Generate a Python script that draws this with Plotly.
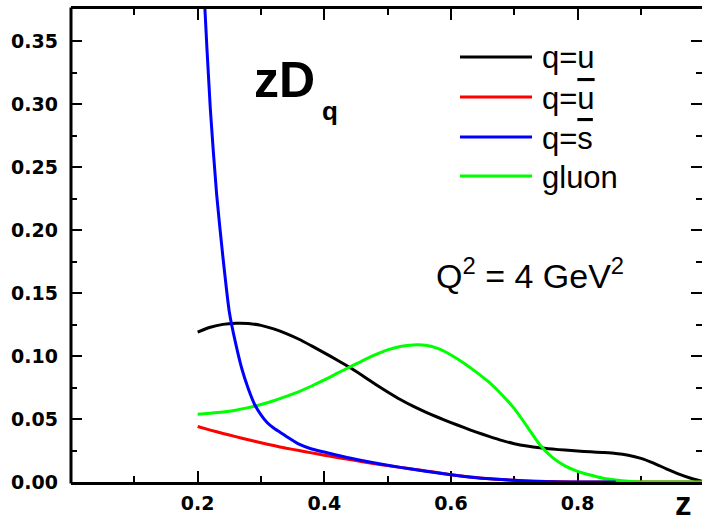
import plotly.graph_objects as go

# Fragmentation functions zD_q(z) at Q^2 = 4 GeV^2
z = [0.20, 0.22, 0.24, 0.26, 0.28, 0.30, 0.32, 0.34, 0.36, 0.38,
     0.40, 0.42, 0.44, 0.46, 0.48, 0.50, 0.52, 0.54, 0.56, 0.58,
     0.60, 0.62, 0.64, 0.66, 0.68, 0.70, 0.72, 0.74, 0.76, 0.78,
     0.80, 0.82, 0.84, 0.86, 0.88, 0.90, 0.92, 0.94, 0.96, 0.98, 1.00]

zD_u = [0.1190, 0.1228, 0.1251, 0.1260, 0.1258, 0.1243, 0.1215, 0.1178, 0.1133, 0.1080,
        0.1025, 0.0968, 0.0910, 0.0845, 0.0778, 0.0715, 0.0655, 0.0602, 0.0555, 0.0512,
        0.0472, 0.0433, 0.0396, 0.0362, 0.0330, 0.0304, 0.0285, 0.0271, 0.0261, 0.0253,
        0.0246, 0.0240, 0.0234, 0.0227, 0.0213, 0.0188, 0.0150, 0.0105, 0.0063, 0.0028, 0.0]

zD_ubar = [0.0440, 0.0412, 0.0385, 0.0360, 0.0335, 0.0311, 0.0289, 0.0268, 0.0250, 0.0231,
           0.0213, 0.0195, 0.0178, 0.0161, 0.0145, 0.0130, 0.0116, 0.0102, 0.0088, 0.0073,
           0.0058, 0.0046, 0.0035, 0.0026, 0.0019, 0.0013, 0.0008, 0.0005, 0.0003, 0.0001,
           0.0, 0.0, 0.0, 0.0, 0.0, 0.0, 0.0, 0.0, 0.0, 0.0, 0.0]

zD_g = [0.0537, 0.0545, 0.0555, 0.0570, 0.0590, 0.0615, 0.0645, 0.0680, 0.0718, 0.0762,
        0.0810, 0.0862, 0.0912, 0.0962, 0.1008, 0.1048, 0.1075, 0.1088, 0.1085, 0.1058,
        0.1008, 0.0945, 0.0872, 0.0792, 0.0695, 0.0582, 0.0442, 0.0298, 0.0195, 0.0128,
        0.0085, 0.0055, 0.0030, 0.0015, 0.0005, 0.0, 0.0, 0.0, 0.0, 0.0, 0.0]

# s-bar rises steeply at small z, so it is sampled more finely there
z_s = [0.20, 0.21, 0.22, 0.23, 0.24, 0.25, 0.26, 0.27, 0.28, 0.29,
       0.30, 0.31, 0.32, 0.33, 0.34, 0.36, 0.38, 0.40, 0.44, 0.48,
       0.52, 0.56, 0.60, 0.64, 0.68, 0.72, 0.76, 0.80, 0.86]
zD_sbar = [0.520, 0.390, 0.296, 0.228, 0.178, 0.135, 0.110, 0.0895, 0.0740, 0.0615,
           0.0533, 0.0470, 0.0428, 0.0395, 0.0362, 0.0300, 0.0262, 0.0238, 0.0190, 0.0150,
           0.0116, 0.0086, 0.0057, 0.0034, 0.0019, 0.0008, 0.0002, 0.0, 0.0]

labels = ["q=u",
          'q=<span style="text-decoration:overline">u</span>',
          'q=<span style="text-decoration:overline">s</span>',
          "gluon"]
colors = ["#000000", "#ff0000", "#0000ff", "#00ff00"]

y_ticks = [0.00, 0.05, 0.10, 0.15, 0.20, 0.25, 0.30, 0.35]
y_minor = [0.025, 0.075, 0.125, 0.175, 0.225, 0.275, 0.325, 0.375]
x_ticks = [0.2, 0.4, 0.6, 0.8]
x_minor = [0.1, 0.3, 0.5, 0.7, 0.9]

FONT = "Liberation Sans, Arial, sans-serif"
TICK_FONT = "DejaVu Sans, Liberation Sans, sans-serif"

# plot-area geometry (pixels) used for placing decorations
L, T, W, H = 71, 9, 631, 473


def px(x):
    return (x - L) / W


def py(y):
    return (T + H - y) / H


fig = go.Figure()

# draw order: u, ubar, gluon, sbar
for xs, ys, c, name in [(z, zD_u, colors[0], labels[0]),
                        (z, zD_ubar, colors[1], labels[1]),
                        (z, zD_g, colors[3], labels[3]),
                        (z_s, zD_sbar, colors[2], labels[2])]:
    fig.add_trace(go.Scatter(x=xs, y=ys, mode="lines", name=name, showlegend=False,
                             line=dict(color=c, width=3, shape="spline", smoothing=0.6)))

tick_common = dict(ticks="inside", ticklen=11, tickwidth=2, tickcolor="black",
                   showgrid=False, zeroline=False, layer="below traces",
                   tickfont=dict(family=TICK_FONT, size=19, color="black", weight="bold"))

fig.update_xaxes(range=[0, W / 633.3], tickvals=x_ticks, ticktext=[f"{v:.1f}" for v in x_ticks],
                 showline=True, linewidth=3, linecolor="black", mirror="allticks",
                 minor=dict(tickvals=x_minor, ticks="inside", ticklen=6, tickwidth=2,
                            tickcolor="black"),
                 ticklabelstandoff=2, **tick_common)
fig.update_yaxes(range=[0, H / 1260.0], tickvals=y_ticks, ticktext=[f"{v:.2f}" for v in y_ticks],
                 showline=False, mirror="allticks",
                 minor=dict(tickvals=y_minor, ticks="inside", ticklen=6, tickwidth=2,
                            tickcolor="black"),
                 ticklabelstandoff=12, **tick_common)

shapes = [dict(type="line", xref="paper", yref="paper", x0=0, x1=0, y0=-0.003, y1=1.003,
               line=dict(color="black", width=3), layer="below")]
annotations = []

# legend keys
legend_y = [57, 97, 137, 176]
for i, ly in enumerate(legend_y):
    shapes.append(dict(type="line", xref="paper", yref="paper",
                       x0=px(460), x1=px(532), y0=py(ly), y1=py(ly),
                       line=dict(color=colors[i], width=3)))
    annotations.append(dict(xref="paper", yref="paper", x=px(540), y=py(ly + 1),
                            xanchor="left", yanchor="middle", text=labels[i], showarrow=False,
                            font=dict(family=FONT, size=31, color="black")))

annotations += [
    dict(xref="paper", yref="paper", x=px(252), y=py(80), xanchor="left", yanchor="middle",
         text="zD", showarrow=False,
         font=dict(family=FONT, size=50, color="black", weight="bold")),
    dict(xref="paper", yref="paper", x=px(320), y=py(111), xanchor="left", yanchor="middle",
         text="q", showarrow=False,
         font=dict(family=FONT, size=26, color="black", weight="bold")),
    dict(xref="paper", yref="paper", x=px(434), y=py(273), xanchor="left", yanchor="middle",
         text="Q<sup>2</sup> = 4 GeV<sup>2</sup>", showarrow=False,
         font=dict(family=FONT, size=34, color="black")),
    dict(xref="paper", yref="paper", x=px(683), y=py(503), xanchor="center", yanchor="middle",
         text="z", showarrow=False,
         font=dict(family=FONT, size=33, color="black", weight="bold")),
]

fig.update_layout(width=702, height=522, margin=dict(l=L, r=0, t=T, b=40),
                  paper_bgcolor="white", plot_bgcolor="white",
                  shapes=shapes, annotations=annotations, showlegend=False)

fig.write_html("out.html")
